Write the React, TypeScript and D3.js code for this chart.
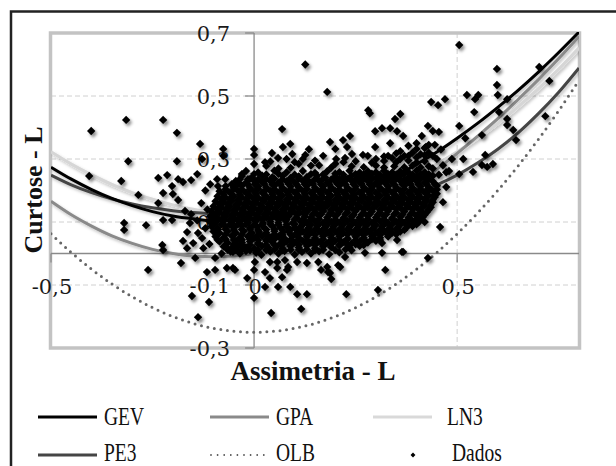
import React from "react";
import * as d3 from "d3";

// L-moment ratio diagram: L-skewness (tau3) vs L-kurtosis (tau4)
const curveTau3 = [-0.5, -0.45, -0.4, -0.35, -0.3, -0.25, -0.2, -0.15, -0.1, -0.05, 0, 0.05, 0.1, 0.15, 0.2, 0.25, 0.3, 0.35, 0.4, 0.45, 0.5, 0.55, 0.6, 0.65, 0.7, 0.75, 0.8];
const gevTau4 = [0.274, 0.236, 0.203, 0.175, 0.152, 0.133, 0.119, 0.11, 0.104, 0.104, 0.107, 0.115, 0.127, 0.143, 0.163, 0.187, 0.215, 0.247, 0.283, 0.322, 0.366, 0.413, 0.464, 0.518, 0.576, 0.638, 0.703];
const gpaTau4 = [0.166, 0.123, 0.087, 0.056, 0.032, 0.013, 0.0, -0.008, -0.01, -0.008, 0.0, 0.012, 0.03, 0.051, 0.077, 0.107, 0.142, 0.18, 0.222, 0.268, 0.318, 0.372, 0.428, 0.489, 0.552, 0.619, 0.689];
const ln3Tau4 = [0.323, 0.284, 0.25, 0.219, 0.193, 0.172, 0.154, 0.14, 0.131, 0.125, 0.123, 0.125, 0.131, 0.14, 0.154, 0.172, 0.193, 0.219, 0.25, 0.284, 0.323, 0.366, 0.413, 0.466, 0.523, 0.585, 0.653];
const pe3Tau4 = [0.249, 0.218, 0.193, 0.173, 0.157, 0.145, 0.136, 0.13, 0.126, 0.123, 0.122, 0.123, 0.126, 0.13, 0.136, 0.145, 0.157, 0.173, 0.193, 0.218, 0.249, 0.287, 0.331, 0.383, 0.444, 0.512, 0.589];
const olbTau4 = [0.0625, 0.0031, -0.05, -0.0969, -0.1375, -0.1719, -0.2, -0.2219, -0.2375, -0.2469, -0.25, -0.2469, -0.2375, -0.2219, -0.2, -0.1719, -0.1375, -0.0969, -0.05, 0.0031, 0.0625, 0.1281, 0.2, 0.2781, 0.3625, 0.4531, 0.55];

const xTicks = [-0.5, 0, 0.5];
const yTicks = [-0.3, -0.1, 0.1, 0.3, 0.5, 0.7];
const xGrid = [0.5];
const yGrid = [-0.1, 0.1, 0.3, 0.5];

const seriesNames = ["GEV", "GPA", "LN3", "PE3", "OLB", "Dados"];
const xTitle = "Assimetria - L";
const yTitle = "Curtose - L";

const dadosPeriferia: [number, number][] = [
  [-0.401, 0.389], [-0.315, 0.424], [-0.224, 0.424], [-0.19, 0.383], [-0.31, 0.293], [-0.19, 0.293], [-0.133, 0.348], [-0.128, 0.3],
  [-0.076, 0.332], [-0.076, 0.31], [-0.406, 0.246], [-0.327, 0.23], [-0.236, 0.24], [-0.214, 0.249], [-0.187, 0.236], [-0.175, 0.227],
  [-0.155, 0.233], [-0.14, 0.252], [-0.202, 0.214], [-0.12, 0.2], [-0.091, 0.236], [-0.089, 0.214], [-0.071, 0.236], [-0.108, 0.22],
  [-0.285, 0.186], [-0.32, 0.097], [-0.32, 0.075], [-0.266, 0.09], [-0.224, 0.192], [-0.2, 0.189], [-0.187, 0.17], [-0.236, 0.16],
  [-0.224, 0.106], [-0.202, 0.106], [-0.226, 0.027], [-0.224, 0.011], [-0.261, -0.052], [-0.18, -0.03], [-0.175, 0.04], [-0.165, 0.017],
  [-0.15, 0.033], [-0.125, 0.017], [-0.145, -0.014], [-0.116, -0.059], [-0.096, -0.052], [-0.096, -0.014], [-0.067, -0.046], [-0.153, -0.135],
  [-0.111, -0.154], [-0.138, -0.202], [-0.165, 0.068], [-0.158, 0.097], [-0.138, 0.065], [-0.128, 0.049], [-0.155, 0.125], [-0.14, 0.105],
  [-0.17, 0.135], [-0.13, 0.16], [-0.115, 0.14], [-0.12, 0.08], [-0.11, 0.03], [-0.08, 0.0], [-0.07, 0.02],
  [0.126, 0.6], [0.18, 0.513], [0.281, 0.455], [0.285, 0.445], [0.36, 0.443], [0.347, 0.427], [0.069, 0.395], [0.298, 0.388],
  [0.315, 0.398], [0.335, 0.398], [0.352, 0.388], [0.367, 0.373], [0.335, 0.35], [0.187, 0.354], [0.219, 0.36], [0.236, 0.373],
  [0.2, 0.332], [0.229, 0.338], [0.089, 0.348], [0.071, 0.338], [0.044, 0.319], [0.059, 0.303], [0.0, 0.332], [0.0, 0.313],
  [0.027, 0.29], [0.094, 0.316], [0.135, 0.331], [0.126, 0.313], [0.202, 0.3], [0.224, 0.303], [0.241, 0.316], [0.268, 0.313],
  [0.28, 0.31], [0.298, 0.338], [-0.03, 0.252], [-0.042, 0.217], [-0.015, 0.236], [0.002, 0.22], [0.0, 0.284], [0.06, 0.27],
  [0.505, 0.662], [0.598, 0.586], [0.598, 0.535], [0.6, 0.503], [0.702, 0.592], [0.727, 0.548], [0.524, 0.503], [0.544, 0.49],
  [0.552, 0.503], [0.436, 0.481], [0.453, 0.471], [0.47, 0.49], [0.542, 0.449], [0.623, 0.49], [0.603, 0.449], [0.623, 0.427],
  [0.623, 0.408], [0.638, 0.392], [0.717, 0.436], [0.645, 0.36], [0.505, 0.405], [0.428, 0.405], [0.44, 0.389], [0.455, 0.386],
  [0.413, 0.373], [0.423, 0.338], [0.52, 0.366], [0.561, 0.376], [0.515, 0.3], [0.487, 0.3], [0.569, 0.313], [0.561, 0.281],
  [0.574, 0.275], [0.588, 0.284], [0.539, 0.259], [0.48, 0.262], [0.505, 0.252], [0.473, 0.211], [0.473, 0.258], [0.4, 0.35],
  [0.43, 0.32], [0.445, 0.345], [0.46, 0.33], [0.45, 0.3], [0.465, 0.28], [0.44, 0.27], [0.455, 0.25], [0.43, 0.25],
  [-0.052, 0.005], [-0.047, -0.052], [-0.017, -0.078], [0.002, -0.027], [0.0, -0.052], [0.0, -0.141], [0.027, -0.059], [0.039, -0.078],
  [0.027, -0.106], [0.059, -0.106], [0.069, -0.075], [0.057, -0.046], [0.081, -0.052], [0.089, -0.106], [0.042, -0.189], [0.106, -0.129],
  [0.13, -0.129], [0.116, -0.176], [0.158, -0.027], [0.165, -0.052], [0.182, -0.059], [0.19, -0.081], [0.207, -0.037], [0.227, -0.129],
  [0.305, -0.116], [0.323, -0.052], [0.273, 0.002], [0.315, 0.002], [0.364, 0.005], [0.352, 0.043], [0.278, 0.068], [0.293, 0.052],
  [0.315, 0.033], [-0.052, -0.046], [0.039, -0.027], [0.057, -0.027], [0.076, -0.021], [0.084, -0.043], [0.106, -0.027], [0.13, -0.03],
  [0.18, -0.043], [0.187, -0.062], [0.212, -0.043], [0.224, -0.011], [0.318, 0.075], [0.327, 0.097], [0.367, 0.005],
  [0.465, 0.163], [0.458, 0.084], [0.413, 0.132], [0.391, 0.09], [0.428, -0.014], [0.45, 0.19], [0.43, 0.2], [0.42, 0.1],
  [0.33, 0.31], [0.37, 0.31], [0.39, 0.32], [0.41, 0.315], [0.36, 0.325], [0.44, 0.31], [0.42, 0.335],
  [0.3, 0.3], [0.32, 0.308], [0.34, 0.303], [0.36, 0.3], [0.38, 0.31], [0.4, 0.305], [0.42, 0.312], [0.35, 0.318], [0.4, 0.332], [0.38, 0.342], [0.43, 0.345],
  [0.04, 0.292], [0.08, 0.3], [0.11, 0.285], [0.15, 0.295], [0.17, 0.31], [0.12, 0.3], [0.2, 0.285], [0.22, 0.29], [0.16, 0.28],
];

const dadosNucleo: [number, number][] = [
  [-0.058, 0.006], [-0.035, 0.0], [-0.02, 0.008], [0.005, 0.002], [0.018, -0.004], [0.04, 0.006], [0.06, 0.0], [0.075, 0.008], [0.1, -0.003], [0.118, 0.005], [0.14, 0.0], [0.16, 0.007], [0.185, -0.002], [0.21, 0.004], [0.24, 0.01],
  [-0.075, 0.022], [-0.055, 0.018], [-0.04, 0.024], [-0.02, 0.02], [0.0, 0.016], [0.02, 0.024], [0.035, 0.019], [0.055, 0.022], [0.07, 0.016], [0.09, 0.023], [0.11, 0.019], [0.13, 0.024], [0.15, 0.017], [0.17, 0.022], [0.19, 0.02], [0.21, 0.025], [0.235, 0.019], [0.26, 0.024],
  [-0.085, 0.038], [-0.065, 0.034], [-0.045, 0.04], [-0.03, 0.035], [-0.01, 0.038], [0.01, 0.033], [0.03, 0.04], [0.045, 0.036], [0.065, 0.032], [0.08, 0.039], [0.1, 0.035], [0.12, 0.04], [0.14, 0.034], [0.16, 0.037], [0.18, 0.033], [0.2, 0.04], [0.22, 0.036], [0.24, 0.032], [0.26, 0.039], [0.28, 0.035], [0.3, 0.04],
  [-0.095, 0.054], [-0.075, 0.05], [-0.055, 0.056], [-0.035, 0.05], [-0.015, 0.054], [0.0, 0.049], [0.02, 0.055], [0.04, 0.051], [0.06, 0.054], [0.075, 0.048], [0.095, 0.055], [0.11, 0.05], [0.13, 0.053], [0.15, 0.049], [0.17, 0.055], [0.19, 0.051], [0.21, 0.054], [0.23, 0.048], [0.25, 0.053], [0.27, 0.05], [0.29, 0.055], [0.31, 0.05], [0.33, 0.054],
  [-0.1, 0.07], [-0.085, 0.065], [-0.065, 0.07], [-0.045, 0.066], [-0.025, 0.071], [-0.005, 0.065], [0.012, 0.069], [0.03, 0.066], [0.05, 0.071], [0.07, 0.066], [0.085, 0.07], [0.105, 0.065], [0.12, 0.07], [0.14, 0.066], [0.16, 0.071], [0.18, 0.066], [0.2, 0.07], [0.22, 0.065], [0.24, 0.069], [0.26, 0.066], [0.28, 0.071], [0.3, 0.066], [0.32, 0.07], [0.34, 0.066], [0.36, 0.07],
  [-0.105, 0.086], [-0.09, 0.081], [-0.07, 0.086], [-0.05, 0.082], [-0.03, 0.087], [-0.01, 0.081], [0.008, 0.085], [0.025, 0.082], [0.045, 0.087], [0.065, 0.082], [0.08, 0.086], [0.1, 0.081], [0.115, 0.085], [0.135, 0.082], [0.155, 0.087], [0.175, 0.082], [0.195, 0.086], [0.215, 0.081], [0.235, 0.085], [0.255, 0.082], [0.275, 0.087], [0.295, 0.082], [0.315, 0.086], [0.335, 0.081], [0.355, 0.085], [0.375, 0.082], [0.39, 0.087],
  [-0.11, 0.102], [-0.095, 0.098], [-0.075, 0.103], [-0.055, 0.097], [-0.035, 0.101], [-0.015, 0.098], [0.005, 0.103], [0.022, 0.097], [0.04, 0.101], [0.06, 0.098], [0.078, 0.103], [0.095, 0.097], [0.115, 0.101], [0.13, 0.098], [0.15, 0.103], [0.17, 0.097], [0.19, 0.101], [0.21, 0.098], [0.23, 0.103], [0.25, 0.097], [0.27, 0.101], [0.29, 0.098], [0.31, 0.103], [0.33, 0.097], [0.35, 0.101], [0.37, 0.098], [0.39, 0.103], [0.405, 0.099],
  [-0.108, 0.118], [-0.09, 0.113], [-0.07, 0.118], [-0.05, 0.114], [-0.03, 0.119], [-0.01, 0.113], [0.01, 0.117], [0.03, 0.114], [0.05, 0.119], [0.068, 0.114], [0.085, 0.118], [0.105, 0.113], [0.125, 0.117], [0.14, 0.114], [0.16, 0.119], [0.18, 0.114], [0.2, 0.118], [0.22, 0.113], [0.24, 0.117], [0.26, 0.114], [0.28, 0.119], [0.3, 0.114], [0.32, 0.118], [0.34, 0.113], [0.36, 0.117], [0.38, 0.114], [0.4, 0.119], [0.415, 0.115],
  [-0.105, 0.134], [-0.085, 0.13], [-0.065, 0.135], [-0.045, 0.129], [-0.025, 0.133], [-0.005, 0.13], [0.015, 0.135], [0.035, 0.129], [0.055, 0.133], [0.075, 0.13], [0.095, 0.135], [0.112, 0.129], [0.13, 0.133], [0.15, 0.13], [0.17, 0.135], [0.19, 0.129], [0.21, 0.133], [0.23, 0.13], [0.25, 0.135], [0.27, 0.129], [0.29, 0.133], [0.31, 0.13], [0.33, 0.135], [0.35, 0.129], [0.37, 0.133], [0.39, 0.13], [0.41, 0.135], [0.425, 0.131],
  [-0.1, 0.15], [-0.08, 0.145], [-0.06, 0.15], [-0.04, 0.146], [-0.02, 0.151], [0.0, 0.145], [0.02, 0.149], [0.04, 0.146], [0.06, 0.151], [0.08, 0.146], [0.1, 0.15], [0.12, 0.145], [0.14, 0.149], [0.16, 0.146], [0.18, 0.151], [0.2, 0.146], [0.22, 0.15], [0.24, 0.145], [0.26, 0.149], [0.28, 0.146], [0.3, 0.151], [0.32, 0.146], [0.34, 0.15], [0.36, 0.145], [0.38, 0.149], [0.4, 0.146], [0.42, 0.151], [0.435, 0.147],
  [-0.095, 0.166], [-0.075, 0.162], [-0.055, 0.167], [-0.035, 0.161], [-0.015, 0.165], [0.005, 0.162], [0.025, 0.167], [0.045, 0.161], [0.065, 0.165], [0.085, 0.162], [0.105, 0.167], [0.125, 0.161], [0.145, 0.165], [0.165, 0.162], [0.185, 0.167], [0.205, 0.161], [0.225, 0.165], [0.245, 0.162], [0.265, 0.167], [0.285, 0.161], [0.305, 0.165], [0.325, 0.162], [0.345, 0.167], [0.365, 0.161], [0.385, 0.165], [0.405, 0.162], [0.425, 0.167], [0.44, 0.163],
  [-0.09, 0.182], [-0.07, 0.177], [-0.05, 0.182], [-0.03, 0.178], [-0.01, 0.183], [0.01, 0.177], [0.03, 0.181], [0.05, 0.178], [0.07, 0.183], [0.09, 0.178], [0.11, 0.182], [0.13, 0.177], [0.15, 0.181], [0.17, 0.178], [0.19, 0.183], [0.21, 0.178], [0.23, 0.182], [0.25, 0.177], [0.27, 0.181], [0.29, 0.178], [0.31, 0.183], [0.33, 0.178], [0.35, 0.182], [0.37, 0.177], [0.39, 0.181], [0.41, 0.178], [0.43, 0.183], [0.445, 0.179],
  [-0.085, 0.198], [-0.06, 0.194], [-0.04, 0.199], [-0.02, 0.193], [0.0, 0.197], [0.02, 0.194], [0.04, 0.199], [0.06, 0.193], [0.08, 0.197], [0.1, 0.194], [0.12, 0.199], [0.14, 0.193], [0.16, 0.197], [0.18, 0.194], [0.2, 0.199], [0.22, 0.193], [0.24, 0.197], [0.26, 0.194], [0.28, 0.199], [0.3, 0.193], [0.32, 0.197], [0.34, 0.194], [0.36, 0.199], [0.38, 0.193], [0.4, 0.197], [0.42, 0.194], [0.44, 0.199],
  [-0.07, 0.214], [-0.05, 0.21], [-0.03, 0.215], [-0.01, 0.209], [0.01, 0.213], [0.03, 0.21], [0.05, 0.215], [0.07, 0.209], [0.09, 0.213], [0.11, 0.21], [0.13, 0.215], [0.15, 0.209], [0.17, 0.213], [0.19, 0.21], [0.21, 0.215], [0.23, 0.209], [0.25, 0.213], [0.27, 0.21], [0.29, 0.215], [0.31, 0.209], [0.33, 0.213], [0.35, 0.21], [0.37, 0.215], [0.39, 0.209], [0.41, 0.213], [0.43, 0.21], [0.45, 0.215],
  [-0.045, 0.23], [-0.02, 0.225], [0.0, 0.231], [0.02, 0.226], [0.04, 0.23], [0.06, 0.225], [0.08, 0.229], [0.1, 0.226], [0.12, 0.231], [0.14, 0.226], [0.16, 0.23], [0.18, 0.225], [0.2, 0.229], [0.22, 0.226], [0.24, 0.231], [0.26, 0.226], [0.28, 0.23], [0.3, 0.225], [0.32, 0.229], [0.34, 0.226], [0.36, 0.231], [0.38, 0.226], [0.4, 0.23], [0.42, 0.225], [0.44, 0.229],
  [-0.03, 0.246], [-0.005, 0.241], [0.02, 0.247], [0.045, 0.242], [0.07, 0.246], [0.09, 0.24], [0.11, 0.245], [0.13, 0.242], [0.155, 0.247], [0.175, 0.241], [0.2, 0.245], [0.22, 0.242], [0.24, 0.247], [0.26, 0.242], [0.28, 0.246], [0.3, 0.241], [0.32, 0.245], [0.34, 0.242], [0.36, 0.247], [0.38, 0.241], [0.4, 0.245], [0.42, 0.242], [0.44, 0.247],
  [-0.02, 0.262], [0.01, 0.257], [0.05, 0.263], [0.08, 0.258], [0.12, 0.262], [0.15, 0.256], [0.18, 0.261], [0.21, 0.258], [0.235, 0.263], [0.26, 0.257], [0.28, 0.261], [0.3, 0.258], [0.32, 0.263], [0.34, 0.257], [0.36, 0.261], [0.38, 0.258], [0.4, 0.263], [0.42, 0.258],
  [0.03, 0.278], [0.09, 0.272], [0.14, 0.279], [0.19, 0.273], [0.24, 0.277], [0.27, 0.274], [0.3, 0.279], [0.32, 0.273], [0.345, 0.277], [0.37, 0.274], [0.39, 0.279], [0.41, 0.273], [0.43, 0.277],
  [0.1, 0.29], [0.25, 0.293], [0.29, 0.288], [0.32, 0.294], [0.35, 0.29], [0.38, 0.295], [0.4, 0.289], [0.42, 0.293],
];

const dadosNucleoDenso: [number, number][] = [
  [-0.065, 0.012], [-0.045, 0.011], [-0.03, 0.013], [-0.01, 0.01], [0.01, 0.012], [0.03, 0.011], [0.05, 0.013], [0.07, 0.01], [0.09, 0.012], [0.11, 0.011], [0.13, 0.013], [0.15, 0.01], [0.17, 0.012], [0.2, 0.011], [0.225, 0.013],
  [-0.07, 0.028], [-0.05, 0.029], [-0.03, 0.027], [-0.01, 0.028], [0.01, 0.029], [0.03, 0.027], [0.05, 0.028], [0.07, 0.029], [0.09, 0.027], [0.11, 0.028], [0.13, 0.029], [0.15, 0.027], [0.17, 0.028], [0.19, 0.029], [0.21, 0.027], [0.23, 0.028], [0.25, 0.029], [0.27, 0.027],
  [-0.09, 0.044], [-0.07, 0.045], [-0.05, 0.043], [-0.03, 0.044], [-0.01, 0.045], [0.01, 0.043], [0.03, 0.044], [0.05, 0.045], [0.07, 0.043], [0.09, 0.044], [0.11, 0.045], [0.13, 0.043], [0.15, 0.044], [0.17, 0.045], [0.19, 0.043], [0.21, 0.044], [0.23, 0.045], [0.25, 0.043], [0.27, 0.044], [0.29, 0.045], [0.31, 0.043],
  [-0.09, 0.06], [-0.07, 0.061], [-0.05, 0.059], [-0.03, 0.06], [-0.01, 0.061], [0.01, 0.059], [0.03, 0.06], [0.05, 0.061], [0.07, 0.059], [0.09, 0.06], [0.11, 0.061], [0.13, 0.059], [0.15, 0.06], [0.17, 0.061], [0.19, 0.059], [0.21, 0.06], [0.23, 0.061], [0.25, 0.059], [0.27, 0.06], [0.29, 0.061], [0.31, 0.059], [0.33, 0.06], [0.35, 0.061],
  [-0.09, 0.076], [-0.07, 0.077], [-0.05, 0.075], [-0.03, 0.076], [-0.01, 0.077], [0.01, 0.075], [0.03, 0.076], [0.05, 0.077], [0.07, 0.075], [0.09, 0.076], [0.11, 0.077], [0.13, 0.075], [0.15, 0.076], [0.17, 0.077], [0.19, 0.075], [0.21, 0.076], [0.23, 0.077], [0.25, 0.075], [0.27, 0.076], [0.29, 0.077], [0.31, 0.075], [0.33, 0.076], [0.35, 0.077], [0.37, 0.075],
  [-0.1, 0.092], [-0.08, 0.093], [-0.06, 0.091], [-0.04, 0.092], [-0.02, 0.093], [0.0, 0.091], [0.02, 0.092], [0.04, 0.093], [0.06, 0.091], [0.08, 0.092], [0.1, 0.093], [0.12, 0.091], [0.14, 0.092], [0.16, 0.093], [0.18, 0.091], [0.2, 0.092], [0.22, 0.093], [0.24, 0.091], [0.26, 0.092], [0.28, 0.093], [0.3, 0.091], [0.32, 0.092], [0.34, 0.093], [0.36, 0.091], [0.38, 0.092], [0.4, 0.093],
  [-0.1, 0.108], [-0.08, 0.109], [-0.06, 0.107], [-0.04, 0.108], [-0.02, 0.109], [0.0, 0.107], [0.02, 0.108], [0.04, 0.109], [0.06, 0.107], [0.08, 0.108], [0.1, 0.109], [0.12, 0.107], [0.14, 0.108], [0.16, 0.109], [0.18, 0.107], [0.2, 0.108], [0.22, 0.109], [0.24, 0.107], [0.26, 0.108], [0.28, 0.109], [0.3, 0.107], [0.32, 0.108], [0.34, 0.109], [0.36, 0.107], [0.38, 0.108], [0.4, 0.109], [0.41, 0.107],
  [-0.095, 0.124], [-0.075, 0.125], [-0.055, 0.123], [-0.035, 0.124], [-0.015, 0.125], [0.005, 0.123], [0.025, 0.124], [0.045, 0.125], [0.065, 0.123], [0.085, 0.124], [0.105, 0.125], [0.125, 0.123], [0.145, 0.124], [0.165, 0.125], [0.185, 0.123], [0.205, 0.124], [0.225, 0.125], [0.245, 0.123], [0.265, 0.124], [0.285, 0.125], [0.305, 0.123], [0.325, 0.124], [0.345, 0.125], [0.365, 0.123], [0.385, 0.124], [0.405, 0.125], [0.42, 0.123],
  [-0.09, 0.14], [-0.07, 0.141], [-0.05, 0.139], [-0.03, 0.14], [-0.01, 0.141], [0.01, 0.139], [0.03, 0.14], [0.05, 0.141], [0.07, 0.139], [0.09, 0.14], [0.11, 0.141], [0.13, 0.139], [0.15, 0.14], [0.17, 0.141], [0.19, 0.139], [0.21, 0.14], [0.23, 0.141], [0.25, 0.139], [0.27, 0.14], [0.29, 0.141], [0.31, 0.139], [0.33, 0.14], [0.35, 0.141], [0.37, 0.139], [0.39, 0.14], [0.41, 0.141], [0.43, 0.139],
  [-0.085, 0.156], [-0.065, 0.157], [-0.045, 0.155], [-0.025, 0.156], [-0.005, 0.157], [0.015, 0.155], [0.035, 0.156], [0.055, 0.157], [0.075, 0.155], [0.095, 0.156], [0.115, 0.157], [0.135, 0.155], [0.155, 0.156], [0.175, 0.157], [0.195, 0.155], [0.215, 0.156], [0.235, 0.157], [0.255, 0.155], [0.275, 0.156], [0.295, 0.157], [0.315, 0.155], [0.335, 0.156], [0.355, 0.157], [0.375, 0.155], [0.395, 0.156], [0.415, 0.157], [0.435, 0.155],
  [-0.08, 0.172], [-0.06, 0.173], [-0.04, 0.171], [-0.02, 0.172], [0.0, 0.173], [0.02, 0.171], [0.04, 0.172], [0.06, 0.173], [0.08, 0.171], [0.1, 0.172], [0.12, 0.173], [0.14, 0.171], [0.16, 0.172], [0.18, 0.173], [0.2, 0.171], [0.22, 0.172], [0.24, 0.173], [0.26, 0.171], [0.28, 0.172], [0.3, 0.173], [0.32, 0.171], [0.34, 0.172], [0.36, 0.173], [0.38, 0.171], [0.4, 0.172], [0.42, 0.173], [0.44, 0.171],
  [-0.075, 0.188], [-0.055, 0.189], [-0.035, 0.187], [-0.015, 0.188], [0.005, 0.189], [0.025, 0.187], [0.045, 0.188], [0.065, 0.189], [0.085, 0.187], [0.105, 0.188], [0.125, 0.189], [0.145, 0.187], [0.165, 0.188], [0.185, 0.189], [0.205, 0.187], [0.225, 0.188], [0.245, 0.189], [0.265, 0.187], [0.285, 0.188], [0.305, 0.189], [0.325, 0.187], [0.345, 0.188], [0.365, 0.189], [0.385, 0.187], [0.405, 0.188], [0.425, 0.189], [0.445, 0.187],
  [-0.07, 0.204], [-0.05, 0.205], [-0.03, 0.203], [-0.01, 0.204], [0.01, 0.205], [0.03, 0.203], [0.05, 0.204], [0.07, 0.205], [0.09, 0.203], [0.11, 0.204], [0.13, 0.205], [0.15, 0.203], [0.17, 0.204], [0.19, 0.205], [0.21, 0.203], [0.23, 0.204], [0.25, 0.205], [0.27, 0.203], [0.29, 0.204], [0.31, 0.205], [0.33, 0.203], [0.35, 0.204], [0.37, 0.205], [0.39, 0.203], [0.41, 0.204], [0.43, 0.205], [0.45, 0.203],
  [-0.055, 0.22], [-0.035, 0.221], [-0.015, 0.219], [0.005, 0.22], [0.025, 0.221], [0.045, 0.219], [0.065, 0.22], [0.085, 0.221], [0.105, 0.219], [0.125, 0.22], [0.145, 0.221], [0.165, 0.219], [0.185, 0.22], [0.205, 0.221], [0.225, 0.219], [0.245, 0.22], [0.265, 0.221], [0.285, 0.219], [0.305, 0.22], [0.325, 0.221], [0.345, 0.219], [0.365, 0.22], [0.385, 0.221], [0.405, 0.219], [0.425, 0.22], [0.445, 0.221],
  [-0.035, 0.236], [-0.01, 0.237], [0.01, 0.235], [0.03, 0.236], [0.05, 0.237], [0.07, 0.235], [0.09, 0.236], [0.11, 0.237], [0.13, 0.235], [0.15, 0.236], [0.17, 0.237], [0.19, 0.235], [0.21, 0.236], [0.23, 0.237], [0.25, 0.235], [0.27, 0.236], [0.29, 0.237], [0.31, 0.235], [0.33, 0.236], [0.35, 0.237], [0.37, 0.235], [0.39, 0.236], [0.41, 0.237], [0.43, 0.235],
  [0.0, 0.252], [0.03, 0.251], [0.06, 0.253], [0.1, 0.25], [0.14, 0.252], [0.17, 0.251], [0.2, 0.253], [0.22, 0.25], [0.25, 0.252], [0.27, 0.251], [0.29, 0.253], [0.31, 0.25], [0.33, 0.252], [0.35, 0.251], [0.37, 0.253], [0.39, 0.25], [0.41, 0.252], [0.43, 0.251],
];

const W = 616;
const H = 466;
const PL = 51, PR = 579, PT = 33, PB = 348;

const diamond = {
  draw(ctx: any, size: number) {
    const r = Math.sqrt(size / 2);
    ctx.moveTo(0, -r);
    ctx.lineTo(r, 0);
    ctx.lineTo(0, r);
    ctx.lineTo(-r, 0);
    ctx.closePath();
  },
};

const fmt = (v: number) => (Math.abs(v) < 1e-9 ? "0" : d3.format(".1f")(v).replace(".", ",").replace("−", "-"));

export default function App() {
  const x = d3.scaleLinear().domain([-0.5, 0.8]).range([PL, PR]);
  const y = d3.scaleLinear().domain([-0.3, 0.7]).range([PB, PT]);
  const x0 = x(0);
  const y0 = y(0);

  const line = (vals: number[]) =>
    d3
      .line<number>()
      .x((_, i) => x(curveTau3[i]))
      .y((v) => y(v))
      .curve(d3.curveMonotoneX)(vals) || "";

  const dadosAll = [...dadosNucleoDenso, ...dadosNucleo, ...dadosPeriferia];
  const sym = d3.symbol().type(diamond as any).size(35)() || "";
  const symLegend = d3.symbol().type(diamond as any).size(12)() || "";

  const curves = [
    { name: "LN3", vals: ln3Tau4, color: "#d6d6d6", w: 3.2 },
    { name: "GPA", vals: gpaTau4, color: "#8a8a8a", w: 3 },
    { name: "PE3", vals: pe3Tau4, color: "#454545", w: 3 },
    { name: "GEV", vals: gevTau4, color: "#000000", w: 3 },
  ];

  const serif = "'Liberation Serif', 'Times New Roman', serif";
  const tickFont = "'DejaVu Serif', serif";

  const legend = [
    { name: seriesNames[0], lx: 38, ly: 417, tx: 104, ty: 425, kind: "line", color: "#000", w: 3 },
    { name: seriesNames[1], lx: 210, ly: 417, tx: 276, ty: 425, kind: "line", color: "#8a8a8a", w: 3 },
    { name: seriesNames[2], lx: 373, ly: 417, tx: 447, ty: 425, kind: "line", color: "#d9d9d9", w: 3 },
    { name: seriesNames[3], lx: 38, ly: 455, tx: 104, ty: 461, kind: "line", color: "#454545", w: 3 },
    { name: seriesNames[4], lx: 210, ly: 455, tx: 276, ty: 461, kind: "dot", color: "#555", w: 1.8 },
    { name: seriesNames[5], lx: 413, ly: 455, tx: 452, ty: 461, kind: "marker", color: "#000", w: 0 },
  ];

  return (
    <svg width={W} height={H} style={{ position: "absolute", left: 0, top: 0, background: "#fff" }}>
      <defs>
        <clipPath id="plotClip">
          <rect x={PL} y={PT - 1} width={PR - PL} height={PB - PT + 1} />
        </clipPath>
        <filter id="shadow" x="-5%" y="-5%" width="115%" height="115%">
          <feDropShadow dx="2" dy="2.5" stdDeviation="1.4" floodColor="#000" floodOpacity="0.45" />
        </filter>
        <filter id="lshadow" x="-5%" y="-5%" width="115%" height="115%">
          <feDropShadow dx="1.5" dy="2" stdDeviation="1.5" floodColor="#000" floodOpacity="0.25" />
        </filter>
      </defs>
      <rect x={0} y={0} width={W} height={H} fill="#fff" />
      {/* outer frame */}
      <rect x={11} y={11.5} width={W + 20} height={H + 20} fill="none" stroke="#222" strokeWidth={2.5} />

      {/* gridlines */}
      {yGrid.map((v) => (
        <line key={"gy" + v} x1={PL} x2={PR} y1={y(v)} y2={y(v)} stroke="#d0d0d0" strokeWidth={1} strokeDasharray="5 3" />
      ))}
      {xGrid.map((v) => (
        <line key={"gx" + v} x1={x(v)} x2={x(v)} y1={PT} y2={PB} stroke="#d0d0d0" strokeWidth={1} strokeDasharray="5 3" />
      ))}

      {/* plot area border */}
      <rect x={PL - 0.5} y={PT} width={PR - PL + 1} height={PB - PT} fill="none" stroke="#c3c3c3" strokeWidth={3.5} />

      {/* axes */}
      <line x1={x0} x2={x0} y1={PT} y2={PB} stroke="#8a8a8a" strokeWidth={1.3} />
      <line x1={PL} x2={PR} y1={y0} y2={y0} stroke="#8a8a8a" strokeWidth={1.3} />
      {yTicks.map((v) => (
        <line key={"ty" + v} x1={x0 - 9} x2={x0} y1={y(v)} y2={y(v)} stroke="#8a8a8a" strokeWidth={1.3} />
      ))}
      {xTicks.map((v) => (
        <line key={"tx" + v} x1={x(v)} x2={x(v)} y1={y0} y2={y0 + 9} stroke="#8a8a8a" strokeWidth={1.3} />
      ))}

      {/* tick labels */}
      {yTicks.map((v) => (
        <text key={"ly" + v} x={x0 - 24} y={y(v) + 7.5} textAnchor="end" fontFamily={tickFont} fontSize={21} fill="#1a1a1a">
          {fmt(v)}
        </text>
      ))}
      {xTicks.map((v) => (
        <text key={"lx" + v} x={x(v) + 1} y={294} textAnchor="middle" fontFamily={tickFont} fontSize={21} fill="#1a1a1a">
          {fmt(v)}
        </text>
      ))}

      {/* curves */}
      <g clipPath="url(#plotClip)" fill="none">
        <g filter="url(#lshadow)">
          {curves.map((c) => (
            <path key={c.name} d={line(c.vals)} stroke={c.color} strokeWidth={c.w} strokeLinejoin="round" />
          ))}
        </g>
        <path d={line(olbTau4)} stroke="#666" strokeWidth={3} strokeDasharray="0 6.6" strokeLinecap="round" />
      </g>

      {/* data points */}
      <g filter="url(#shadow)" fill="#000">
        {dadosAll.map((d, i) => (
          <path key={i} d={sym} transform={`translate(${x(d[0])},${y(d[1])})`} />
        ))}
      </g>

      {/* axis titles */}
      <text x={313} y={380} textAnchor="middle" fontFamily={serif} fontWeight="bold" fontSize={27} fill="#111">
        {xTitle}
      </text>
      <text transform="translate(42,190) rotate(-90)" textAnchor="middle" fontFamily={serif} fontWeight="bold" fontSize={26} fill="#111">
        {yTitle}
      </text>

      {/* legend */}
      {legend.map((l) => (
        <g key={l.name}>
          {l.kind === "line" && <line x1={l.lx} x2={l.lx + 59} y1={l.ly} y2={l.ly} stroke={l.color} strokeWidth={l.w} />}
          {l.kind === "dot" && (
            <line x1={l.lx + 1} x2={l.lx + 59} y1={l.ly} y2={l.ly} stroke={l.color} strokeWidth={l.w} strokeDasharray="0 6.6" strokeLinecap="round" />
          )}
          {l.kind === "marker" && <path d={symLegend} transform={`translate(${l.lx},${l.ly})`} fill="#000" />}
          <text transform={`translate(${l.tx},${l.ty}) scale(0.78,1)`} fontFamily={serif} fontSize={25} fill="#111">
            {l.name}
          </text>
        </g>
      ))}
    </svg>
  );
}
